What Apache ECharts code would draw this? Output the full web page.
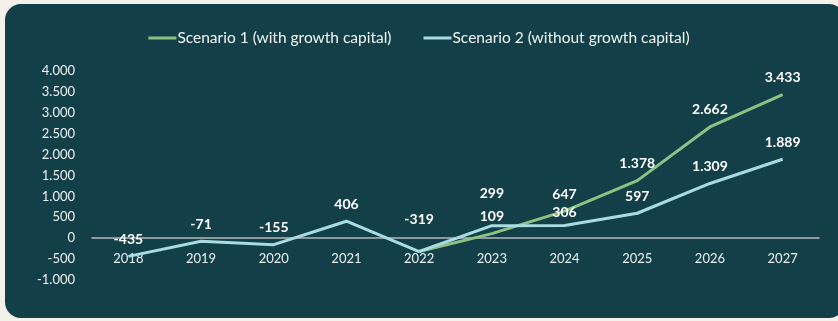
<!DOCTYPE html>
<html>
<head>
    <meta charset="utf-8">
    <title>Scenarios</title>
    <script src="https://cdn.jsdelivr.net/npm/echarts@6/dist/echarts.min.js"></script>
    <style>
        html, body { margin: 0; padding: 0; background: #f3f1ea; }
        #panel { position: absolute; left: 5px; top: 4px; width: 840px; height: 314px; background: #133f48; border-radius: 16px; }
        #chart1 { position: absolute; left: 0; top: 0; width: 838px; height: 321px; }
    </style>
</head>
<body>
    <div id="panel"></div>
    <div id="chart1"></div>
    <script type="text/javascript">
        // data
        var years = ['2018', '2019', '2020', '2021', '2022', '2023', '2024', '2025', '2026', '2027'];
        var scenario1 = [null, null, null, null, -319, 109, 647, 1378, 2662, 3433];
        var scenario2 = [-435, -71, -155, 406, -319, 299, 306, 597, 1309, 1889];
        var yTicks = { min: -1000, max: 4000, step: 500 };

        function fmt(v) {
            var s = String(Math.abs(v)).replace(/\B(?=(\d{3})+(?!\d))/g, '.');
            return (v < 0 ? '-' : '') + s;
        }

        var font = 'Lato';
        var green = '#8dc283';
        var blue = '#a9dbe2';

        // scenario 2 labels lifted where they would collide
        var lift = { 4: 25, 5: 25, 6: 6 };
        var s2data = scenario2.map(function (v, i) {
            var d = { value: v };
            if (lift[i]) d.label = { distance: lift[i] };
            return d;
        });
        var s1data = scenario1.map(function (v, i) {
            var d = { value: v };
            if (i === 4) d.label = { show: false };
            return d;
        });

        var labelStyle = {
            show: true, position: 'top', distance: 10,
            color: '#ffffff', fontWeight: 'bold', fontSize: 14,
            formatter: function (p) { return fmt(p.value); }
        };

        var myChart1 = echarts.init(document.getElementById('chart1'));
        myChart1.setOption({
            backgroundColor: 'transparent',
            textStyle: { fontFamily: font },
            legend: {
                top: 25,
                left: 'center',
                itemWidth: 28,
                itemHeight: 3,
                itemGap: 32,
                icon: 'rect',
                textStyle: { color: '#f2f5f5', fontSize: 15.5, fontFamily: font, padding: [0, 0, 0, -4] },
                data: ['Scenario 1 (with growth capital)', 'Scenario 2 (without growth capital)']
            },
            grid: { left: 92, right: 19, top: 71, bottom: 41, containLabel: false },
            xAxis: {
                type: 'category',
                data: years,
                boundaryGap: true,
                offset: -41.8,
                axisLine: { onZero: false, lineStyle: { color: '#b5b9ba', width: 1.5 } },
                axisTick: { show: false },
                axisLabel: { color: '#eef2f3', fontSize: 13, margin: 14 }
            },
            yAxis: {
                type: 'value',
                min: yTicks.min,
                max: yTicks.max,
                interval: yTicks.step,
                splitLine: { show: false },
                axisLine: { show: false },
                axisTick: { show: false },
                axisLabel: { color: '#eef2f3', fontSize: 13, margin: 17, formatter: fmt }
            },
            series: [{
                name: 'Scenario 1 (with growth capital)',
                type: 'line',
                data: s1data,
                symbol: 'circle',
                symbolSize: 0,
                showSymbol: true,
                lineStyle: { color: green, width: 3 },
                itemStyle: { color: green },
                z: 2,
                label: labelStyle
            }, {
                name: 'Scenario 2 (without growth capital)',
                type: 'line',
                data: s2data,
                symbol: 'circle',
                symbolSize: 0,
                showSymbol: true,
                lineStyle: { color: blue, width: 3 },
                itemStyle: { color: blue },
                z: 3,
                label: labelStyle
            }]
        });
    </script>
</body>
</html>
